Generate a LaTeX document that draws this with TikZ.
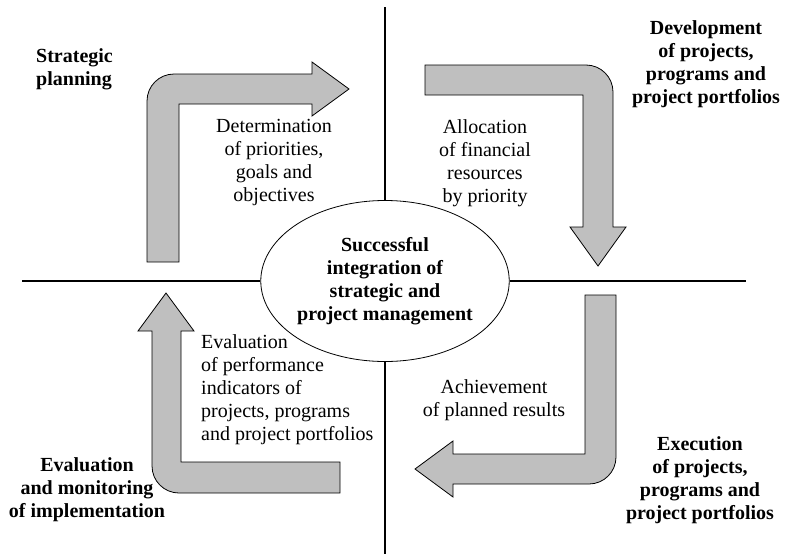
\documentclass[tikz,border=0pt]{standalone}
\usepackage{fontspec}
\setmainfont{Liberation Serif}
\usetikzlibrary{shapes.geometric}
\usetikzlibrary{positioning}
\tikzset{
  ar/.style={draw=black, line width=0.8pt, fill=black!25, line join=miter},
  ax/.style={draw=black, line width=1.1pt},
  tx/.style={align=center, inner sep=0pt, font=\fontsize{20}{23}\selectfont},
  hd/.style={align=center, inner sep=0pt, font=\fontsize{20}{23}\selectfont\bfseries},
  ce/.style={ellipse, draw=black, line width=0.8pt, fill=white, minimum width=243pt, minimum height=161pt, inner sep=0pt, hd}
}

\begin{document}
\begin{tikzpicture}[x=1pt, y=-1pt]
	\useasboundingbox (0,0) rectangle (790,554);
	% quadrant lines
	\coordinate (top) at (385,7);
	\coordinate (bot) at (385,554);
	\coordinate (lft) at (22,281);
	\coordinate (rgt) at (746,281);
	\node[ce] (core) at (385,281) {Successful\\integration of\\strategic and\\project management};
	\draw[ax] (top) -- (core);
	\draw[ax] (core) -- (bot);
	\draw[ax] (lft) -- (core);
	\draw[ax] (core) -- (rgt);
	%
	\draw[ar] (147,262) [rounded corners=27pt] -- (147,74) [sharp corners] -- (312,74) -- (312,62) -- (349,89) -- (312,116) -- (312,104) -- (179,104) -- (179,262) -- cycle;
	\draw[ar] (425,65) [rounded corners=27pt] -- (613,65) [sharp corners] -- (613,227) -- (626,227) -- (598,266) -- (570,227) -- (583,227) -- (583,95) -- (425,95) -- cycle;
	\draw[ar] (616,295) [rounded corners=27pt] -- (616,484) [sharp corners] -- (453,484) -- (453,497) -- (415,469) -- (453,441) -- (453,454) -- (585,454) -- (585,295) -- cycle;
	\draw[ar] (340,493) [rounded corners=27pt] -- (152,493) [sharp corners] -- (152,331) -- (138,331) -- (166,293) -- (194,331) -- (181,331) -- (181,462) -- (340,462) -- cycle;
	%
	\node[hd, align=left, anchor=west] (strat) at (36,69) {Strategic\\planning};
	\node[hd] (devel) at (706,64) {Development\\of projects,\\programs and\\project portfolios};
	\node[hd] (exec) at (700,480) {Execution\\of projects,\\programs and\\project portfolios};
	\node[hd] (evmon) at (87,490) {Evaluation\\and monitoring\\of implementation};
	%
	\node[tx] (determ) at (274,163) {Determination\\of priorities,\\goals and\\objectives};
	\node[tx] (alloc) at (485,163) {Allocation\\of financial\\resources\\by priority};
	\node[tx] (achiev) at (494,400) {Achievement\\of planned results};
	\node[tx, align=left, anchor=west] (evperf) at (201,390) {Evaluation\\of performance\\indicators of\\projects, programs\\and project portfolios};
\end{tikzpicture}
\end{document}
